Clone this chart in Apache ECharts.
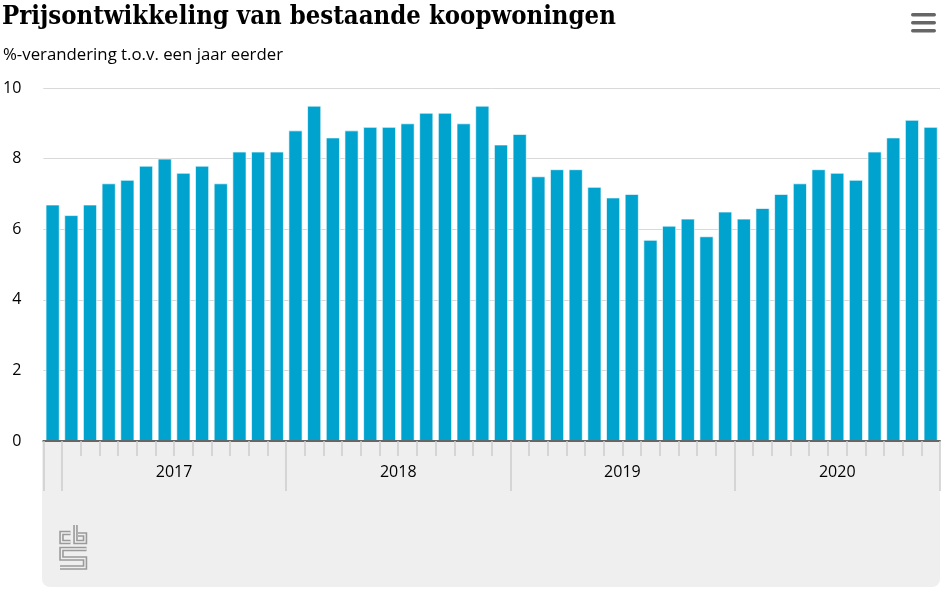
<!DOCTYPE html>
<html>
<head>
<meta charset="utf-8">
<script src="https://cdn.jsdelivr.net/npm/echarts@6/dist/echarts.min.js"></script>
<style>
html,body{margin:0;padding:0;background:#fff;}
#c{width:946px;height:598px;}
</style>
</head>
<body>
<div id="c"></div>
<script>
const months = [
  '2016 december',
  '2017 januari','2017 februari','2017 maart','2017 april','2017 mei','2017 juni',
  '2017 juli','2017 augustus','2017 september','2017 oktober','2017 november','2017 december',
  '2018 januari','2018 februari','2018 maart','2018 april','2018 mei','2018 juni',
  '2018 juli','2018 augustus','2018 september','2018 oktober','2018 november','2018 december',
  '2019 januari','2019 februari','2019 maart','2019 april','2019 mei','2019 juni',
  '2019 juli','2019 augustus','2019 september','2019 oktober','2019 november','2019 december',
  '2020 januari','2020 februari','2020 maart','2020 april','2020 mei','2020 juni',
  '2020 juli','2020 augustus','2020 september','2020 oktober','2020 november'
];
const priceChange = [
  6.7,
  6.4, 6.7, 7.3, 7.4, 7.8, 8.0, 7.6, 7.8, 7.3, 8.2, 8.2, 8.2,
  8.8, 9.5, 8.6, 8.8, 8.9, 8.9, 9.0, 9.3, 9.3, 9.0, 9.5, 8.4,
  8.7, 7.5, 7.7, 7.7, 7.2, 6.9, 7.0, 5.7, 6.1, 6.3, 5.8, 6.5,
  6.3, 6.6, 7.0, 7.3, 7.7, 7.6, 7.4, 8.2, 8.6, 9.1, 8.9
];
const yearLabels = ['2017', '2018', '2019', '2020'];
const titleText = 'Prijsontwikkeling van bestaande koopwoningen';
const subtitleText = '%-verandering t.o.v. een jaar eerder';

const chart = echarts.init(document.getElementById('c'), null, {renderer: 'canvas'});
const GRID_L = 42, GRID_R = 6, GRID_T = 88, GRID_B = 157;
const band = (946 - GRID_L - GRID_R) / months.length;

function yearOf(v) { return v.slice(0, 4); }
function monthOf(v) { return v.slice(5); }
function isLabelSlot(i, v) {
  const y = yearOf(v);
  if (yearLabels.indexOf(y) < 0) return false;
  const count = months.filter(m => yearOf(m) === y).length;
  return count === 12 ? monthOf(v) === 'juli' : monthOf(v) === 'juni';
}

const sansFont = '"Open Sans", "Noto Sans", sans-serif';

chart.setOption({
  animation: false,
  backgroundColor: '#fff',
  title: [
    {text: titleText, left: 2, top: 4, padding: 0,
     textStyle: {fontFamily: '"DejaVu Serif Condensed", "Liberation Serif", serif', fontWeight: 'bold', fontSize: 25.5, color: '#000'}},
    {text: subtitleText, left: 3, top: 47, padding: 0,
     textStyle: {fontFamily: sansFont, fontWeight: 'normal', fontSize: 16.8, color: '#000'}}
  ],
  grid: {left: GRID_L, right: GRID_R, top: GRID_T, bottom: GRID_B, containLabel: false},
  xAxis: [
    {
      type: 'category', data: months, position: 'bottom',
      axisLine: {show: true, lineStyle: {color: '#666', width: 2}},
      axisTick: {show: true, interval: 0, length: 15, lineStyle: {color: '#cdcdcd', width: 1.5}},
      axisLabel: {show: false},
      z: 3
    },
    {
      type: 'category', data: months, position: 'bottom',
      axisLine: {show: false},
      axisTick: {show: true, length: 50, lineStyle: {color: '#cdcdcd', width: 1.5},
        interval: function (i, v) { return i === 0 || monthOf(v) === 'januari'; }},
      axisLabel: {
        show: true, margin: 23,
        interval: function (i, v) { return isLabelSlot(i, v); },
        formatter: function (v) {
          const y = yearOf(v);
          return monthOf(v) === 'juli' ? '{f|' + y + '}' : '{p|' + y + '}';
        },
        rich: {
          f: {fontFamily: sansFont, fontSize: 16, color: '#000', padding: [0, band, 0, 0]},
          p: {fontFamily: sansFont, fontSize: 16, color: '#000'}
        }
      },
      z: 3
    }
  ],
  yAxis: {
    type: 'value', min: 0, max: 10, interval: 2,
    axisLine: {show: false}, axisTick: {show: false},
    axisLabel: {margin: 22, fontFamily: sansFont, fontSize: 16, color: '#000'},
    splitLine: {lineStyle: {color: '#d9d9d9', width: 1}}
  },
  series: [{
    type: 'bar', xAxisIndex: 0, data: priceChange,
    barCategoryGap: '24%',
    itemStyle: {color: '#00a2ce', borderColor: 'rgba(255,255,255,0.65)', borderWidth: 1},
    z: 2
  }],
  graphic: [
    {type: 'rect', z: -10, shape: {x: GRID_L, y: 598 - GRID_B, width: 946 - GRID_L - GRID_R, height: 146, r: [0, 0, 8, 8]},
     style: {fill: '#efefef'}},
    {type: 'rect', shape: {x: 911, y: 13, width: 25, height: 3.5, r: 1.7}, style: {fill: '#666'}},
    {type: 'rect', shape: {x: 911, y: 21, width: 25, height: 3.5, r: 1.7}, style: {fill: '#666'}},
    {type: 'rect', shape: {x: 911, y: 29, width: 25, height: 3.5, r: 1.7}, style: {fill: '#666'}},
    {type: 'group', x: 59, y: 524, children: [
      {type: 'polyline', shape: {points: [[11.5, 9], [2.5, 9], [2.5, 18], [11.5, 18]]}, style: {stroke: '#9a9a9a', lineWidth: 4.5, fill: null, lineJoin: 'miter'}},
      {type: 'polyline', shape: {points: [[11.5, 9], [2.5, 9], [2.5, 18], [11.5, 18]]}, style: {stroke: '#efefef', lineWidth: 1.3, fill: null}},
      {type: 'polyline', shape: {points: [[16.5, 1], [16.5, 18], [26, 18], [26, 10.5], [19, 10.5]]}, style: {stroke: '#9a9a9a', lineWidth: 4.5, fill: null, lineJoin: 'miter'}},
      {type: 'polyline', shape: {points: [[16.5, 1], [16.5, 18], [26, 18], [26, 10.5], [19, 10.5]]}, style: {stroke: '#efefef', lineWidth: 1.3, fill: null}},
      {type: 'polyline', shape: {points: [[27.5, 25], [2.5, 25], [2.5, 34.5], [26, 34.5], [26, 43.5], [1, 43.5]]}, style: {stroke: '#9a9a9a', lineWidth: 4.5, fill: null, lineJoin: 'miter'}},
      {type: 'polyline', shape: {points: [[27.5, 25], [2.5, 25], [2.5, 34.5], [26, 34.5], [26, 43.5], [1, 43.5]]}, style: {stroke: '#efefef', lineWidth: 1.3, fill: null}}
    ]}
  ]
});
</script>
</body>
</html>
